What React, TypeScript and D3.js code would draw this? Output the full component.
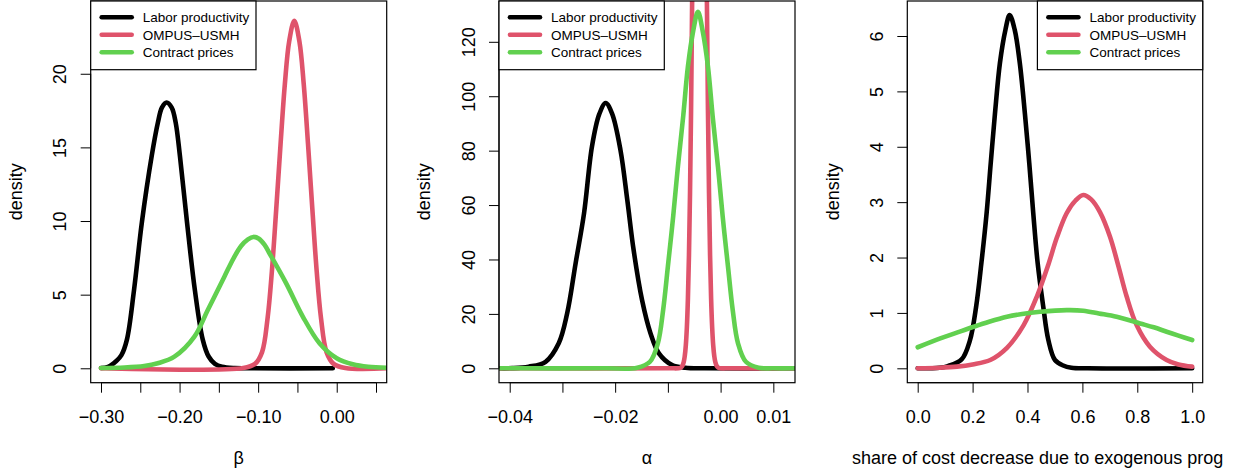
import * as d3 from "d3";
import { useEffect, useRef } from "react";

type Pt = [number, number];

// panel 1: beta
const betaLabor: Pt[] = [
  [-0.3, 0.02], [-0.291, 0.1], [-0.2805, 0.5], [-0.274, 0.9], [-0.267, 1.95], [-0.258, 5.3],
  [-0.248, 9.9], [-0.2355, 14.4], [-0.2275, 16.7], [-0.2225, 17.7], [-0.2165, 18.05], [-0.21, 17.7],
  [-0.205, 16.7], [-0.1995, 14.4], [-0.1905, 9.9], [-0.1805, 5.3], [-0.1705, 1.95], [-0.163, 0.8],
  [-0.155, 0.3], [-0.146, 0.1], [-0.13, 0.01], [-0.11, 0], [-0.005, 0],
];
const betaOmpus: Pt[] = [
  [-0.3, 0], [-0.119, 0.02], [-0.104, 0.3], [-0.095, 1.1], [-0.088, 3.4], [-0.0825, 6.6], [-0.077, 10.8],
  [-0.0715, 15.2], [-0.066, 19.3], [-0.0605, 22.2], [-0.054, 23.6], [-0.0475, 22.2], [-0.042, 19.3],
  [-0.0365, 15.2], [-0.031, 10.8], [-0.0255, 6.6], [-0.02, 3.4], [-0.013, 1.1], [-0.004, 0.3],
  [0.011, 0.02], [0.064, 0],
];
const betaContract: Pt[] = [
  [-0.3, 0.02], [-0.27, 0.05], [-0.245, 0.15], [-0.2278, 0.34], [-0.2066, 0.79], [-0.1811, 2.15],
  [-0.1641, 3.96], [-0.143, 6.22], [-0.1315, 7.45], [-0.1217, 8.3], [-0.113, 8.75], [-0.106, 8.92],
  [-0.099, 8.8], [-0.092, 8.4], [-0.0856, 7.81], [-0.0643, 5.77], [-0.043, 3.5], [-0.0219, 1.7],
  [0.0, 0.68], [0.0205, 0.27], [0.04, 0.1], [0.064, 0.04],
];

// panel 2: alpha
const alphaLabor: Pt[] = [
  [-0.0419, 0], [-0.0395, 0.05], [-0.0364, 0.6], [-0.0332, 2.4], [-0.0307, 9.2], [-0.0291, 20.2],
  [-0.0275, 38.6], [-0.0259, 57.0], [-0.0244, 81.5], [-0.023, 93.5], [-0.0218, 97.5], [-0.0206, 93.7],
  [-0.019, 80.3], [-0.0177, 61.9], [-0.0165, 43.5], [-0.0149, 25.1], [-0.0133, 12.9], [-0.0117, 5.5],
  [-0.0092, 1.2], [-0.0067, 0.2], [-0.003, 0], [0.0141, 0],
];
const alphaOmpus: Pt[] = [
  [-0.0419, 0], [-0.0095, 0], [-0.008, 0.04], [-0.0076, 0.24], [-0.0073, 0.77], [-0.007, 2.3],
  [-0.0068, 4.5], [-0.0066, 8.4], [-0.0064, 15], [-0.0062, 25.6], [-0.006, 41.6], [-0.0058, 64.5],
  [-0.0056, 95], [-0.0054, 135], [-0.0052, 183], [-0.0048, 290], [-0.0044, 383], [-0.004, 420],
  [-0.0036, 383], [-0.0032, 290], [-0.0028, 183], [-0.0026, 135], [-0.0024, 95], [-0.0022, 64.5],
  [-0.002, 41.6], [-0.0018, 25.6], [-0.0016, 15], [-0.0014, 8.4], [-0.0012, 4.5], [-0.001, 2.3],
  [-0.0007, 0.77], [-0.0004, 0.24], [0.0, 0.04], [0.0015, 0], [0.0141, 0],
];
const alphaContract: Pt[] = [
  [-0.0419, 0], [-0.022, 0], [-0.0158, 0.2], [-0.0134, 2.4], [-0.0119, 9.2], [-0.0109, 21.4],
  [-0.01, 37.4], [-0.009, 55.7], [-0.0081, 74.1], [-0.0071, 92.5], [-0.0062, 110.9], [-0.0052, 124],
  [-0.0043, 131], [-0.0034, 124], [-0.0024, 110.9], [-0.0015, 92.5], [-0.0005, 74.1], [0.0004, 55.7],
  [0.0014, 37.4], [0.0023, 21.4], [0.0033, 9.2], [0.0048, 2.4], [0.0072, 0.2], [0.01, 0], [0.0141, 0],
];

// panel 3: share
const shareLabor: Pt[] = [
  [0.0, 0], [0.08, 0.01], [0.11, 0.04], [0.16, 0.16], [0.19, 0.5], [0.2125, 1.1], [0.232, 1.9],
  [0.251, 2.8], [0.266, 3.7], [0.2815, 4.6], [0.2995, 5.51], [0.3195, 6.11], [0.335, 6.38],
  [0.3535, 6.11], [0.372, 5.51], [0.3905, 4.6], [0.4065, 3.7], [0.421, 2.8], [0.437, 1.9],
  [0.4575, 1.11], [0.476, 0.51], [0.5, 0.15], [0.53, 0.05], [0.56, 0.01], [0.62, 0], [1.0, 0],
];
const shareOmpus: Pt[] = [
  [0.0, 0.0], [0.08, 0.01], [0.1431, 0.03], [0.2, 0.07], [0.2644, 0.15], [0.3252, 0.37], [0.386, 0.78],
  [0.4345, 1.3], [0.4764, 1.88], [0.507, 2.36], [0.5426, 2.8], [0.575, 3.03], [0.603, 3.13],
  [0.632, 3.05], [0.664, 2.82], [0.7003, 2.38], [0.7305, 1.86], [0.761, 1.3], [0.7975, 0.78],
  [0.846, 0.39], [0.9068, 0.15], [0.95, 0.07], [1.0, 0.03],
];
const shareContract: Pt[] = [
  [0.0, 0.38], [0.0823, 0.54], [0.14, 0.64], [0.2039, 0.75], [0.26, 0.84], [0.3252, 0.93],
  [0.38, 0.98], [0.4465, 1.02], [0.5426, 1.05], [0.603, 1.04], [0.66, 0.99], [0.7247, 0.93],
  [0.81, 0.81], [0.86, 0.74], [0.907, 0.66], [0.95, 0.59], [1.0, 0.51],
];

const seriesNames = ["Labor productivity", "OMPUS\u2013USMH", "Contract prices"];
const seriesColors = ["#000000", "#DF536B", "#61D04F"];

const betaTicks = [-0.3, -0.25, -0.2, -0.15, -0.1, -0.05, 0.0, 0.05];
const betaTickLabels = ["\u22120.30", "", "\u22120.20", "", "\u22120.10", "", "0.00", ""];
const alphaTicks = [-0.04, -0.03, -0.02, -0.01, 0.0, 0.01];
const alphaTickLabels = ["\u22120.04", "", "\u22120.02", "", "0.00", "0.01"];
const shareTicks = [0, 0.2, 0.4, 0.6, 0.8, 1.0];
const shareTickLabels = ["0.0", "0.2", "0.4", "0.6", "0.8", "1.0"];

const betaYTicks = [0, 5, 10, 15, 20];
const alphaYTicks = [0, 20, 40, 60, 80, 100, 120];
const shareYTicks = [0, 1, 2, 3, 4, 5, 6];

const FONT = "'Liberation Sans', Arial, Helvetica, sans-serif";

const panels = [
  {
    left: 90.7, right: 386.7, xDomain: [-0.3131, 0.0636], yDomain: [-0.978, 24.94],
    series: [betaLabor, betaOmpus, betaContract], xTicks: betaTicks, xLabels: betaTickLabels,
    yTicks: betaYTicks, xTitle: "\u03b2", legendRight: false,
  },
  {
    left: 499, right: 795, xDomain: [-0.04203, 0.01411], yDomain: [-5.29, 135.0],
    series: [alphaLabor, alphaOmpus, alphaContract], xTicks: alphaTicks, xLabels: alphaTickLabels,
    yTicks: alphaYTicks, xTitle: "\u03b1", legendRight: false,
  },
  {
    left: 907.3, right: 1202.7, xDomain: [-0.0379, 1.0383], yDomain: [-0.26, 6.632],
    series: [shareLabor, shareOmpus, shareContract], xTicks: shareTicks, xLabels: shareTickLabels,
    yTicks: shareYTicks, xTitle: "share of cost decrease due to exogenous prog", legendRight: true,
  },
];

const App = () => {
  const chartRef = useRef<SVGSVGElement>(null);

  useEffect(() => {
    const svg = d3.select(chartRef.current);
    svg.selectAll("*").remove();

    const top = 1;
    const bottom = 382.7;
    const legendW = 165.3;
    const legendH = 68.7;

    panels.forEach((p, i) => {
      const scaleX = d3.scaleLinear().domain(p.xDomain).range([p.left, p.right]);
      const scaleY = d3.scaleLinear().domain(p.yDomain).range([bottom, top]);

      const clipId = `plot-clip-${i}`;
      svg.append("clipPath").attr("id", clipId)
        .append("rect")
        .attr("x", p.left).attr("y", top)
        .attr("width", p.right - p.left).attr("height", bottom - top);

      // density curves
      const line = d3.line<Pt>()
        .x(d => scaleX(d[0]))
        .y(d => scaleY(d[1]))
        .curve(d3.curveCatmullRom.alpha(0.5));

      const curves = svg.append("g").attr("clip-path", `url(#${clipId})`);
      p.series.forEach((s, k) => {
        curves.append("path")
          .attr("d", line(s))
          .attr("fill", "none")
          .attr("stroke", seriesColors[k])
          .attr("stroke-width", 4.6)
          .attr("stroke-linejoin", "round")
          .attr("stroke-linecap", "round");
      });

      // box
      svg.append("rect")
        .attr("x", p.left).attr("y", top)
        .attr("width", p.right - p.left).attr("height", bottom - top)
        .attr("fill", "none").attr("stroke", "#000").attr("stroke-width", 1.2);

      // x axis
      const xAxis = d3.axisBottom(scaleX)
        .tickValues(p.xTicks)
        .tickFormat((_, j) => p.xLabels[j])
        .tickSize(10).tickSizeOuter(0).tickPadding(17.2);
      const gx = svg.append("g")
        .attr("transform", `translate(0, ${bottom})`)
        .call(xAxis);
      gx.select(".domain")
        .attr("d", `M${scaleX(p.xTicks[0])},0H${scaleX(p.xTicks[p.xTicks.length - 1])}`);
      gx.selectAll("text").attr("font-size", 18).attr("font-family", FONT).attr("fill", "#000");

      // y axis
      const yAxis = d3.axisLeft(scaleY)
        .tickValues(p.yTicks)
        .tickFormat(d3.format("d"))
        .tickSize(10).tickSizeOuter(0);
      const gy = svg.append("g")
        .attr("transform", `translate(${p.left}, 0)`)
        .call(yAxis);
      gy.select(".domain")
        .attr("d", `M0,${scaleY(p.yTicks[0])}V${scaleY(p.yTicks[p.yTicks.length - 1])}`);
      gy.selectAll("text")
        .attr("x", 0).attr("y", 0).attr("dy", "0.35em")
        .attr("text-anchor", "middle")
        .attr("transform", "translate(-30.7,0) rotate(-90)")
        .attr("font-size", 18).attr("font-family", FONT).attr("fill", "#000");

      // axis titles
      svg.append("text")
        .attr("transform", `translate(${p.left - 75}, ${(top + bottom) / 2}) rotate(-90)`)
        .attr("dy", "0.35em")
        .attr("text-anchor", "middle")
        .attr("font-size", 18).attr("font-family", FONT)
        .text("density");

      const longTitle = p.xTitle.length > 3;
      svg.append("text")
        .attr("x", longTitle ? 852 : (p.left + p.right) / 2)
        .attr("y", 464)
        .attr("text-anchor", longTitle ? "start" : "middle")
        .attr("font-size", 18).attr("font-family", FONT)
        .text(p.xTitle);

      // legend
      const lx = p.legendRight ? p.right - legendW : p.left;
      const lg = svg.append("g").attr("transform", `translate(${lx}, ${top})`);
      lg.append("rect")
        .attr("width", legendW).attr("height", legendH)
        .attr("fill", "#fff").attr("stroke", "#000").attr("stroke-width", 1.2);
      seriesNames.forEach((name, k) => {
        const ly = 16.3 + k * 17.5;
        lg.append("line")
          .attr("x1", 11).attr("x2", 41).attr("y1", ly).attr("y2", ly)
          .attr("stroke", seriesColors[k]).attr("stroke-width", 4.6)
          .attr("stroke-linecap", "round");
        lg.append("text")
          .attr("x", 52).attr("y", ly).attr("dy", "0.35em")
          .attr("font-size", 13.5).attr("font-family", FONT)
          .text(name);
      });
    });
  }, []);

  return (
    <svg
      ref={chartRef}
      width={1240}
      height={472}
      style={{ position: "absolute", left: 0, top: 0, background: "#fff" }}
    />
  );
};

export default App;
